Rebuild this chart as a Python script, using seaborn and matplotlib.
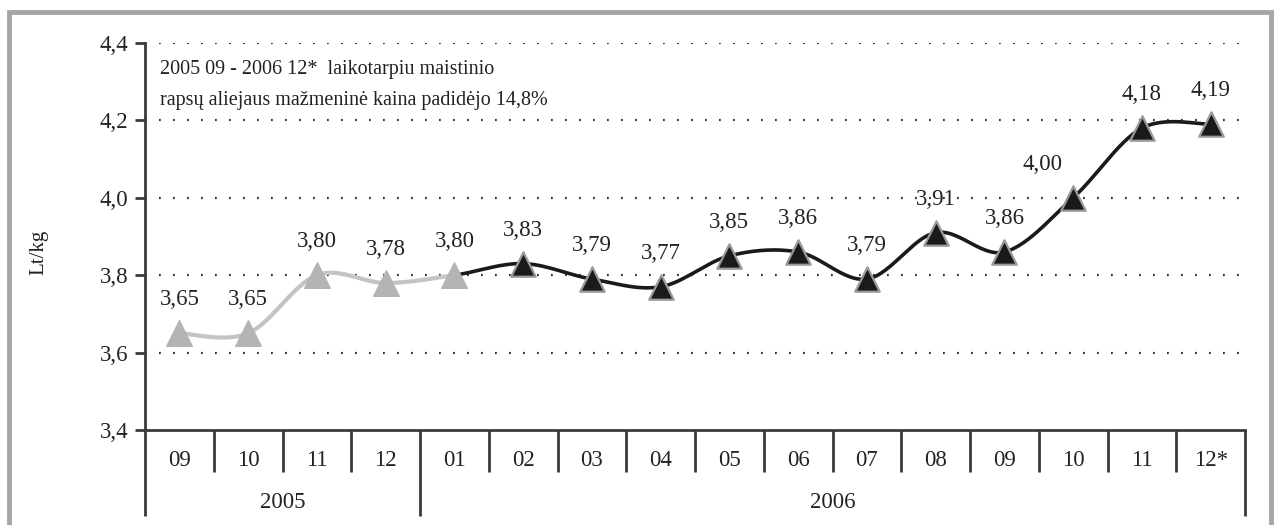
import numpy as np
import pandas as pd
import matplotlib
matplotlib.use("Agg")
import matplotlib.pyplot as plt
import matplotlib.patches as mpatches
import seaborn as sns

# ---- data ----
months = ["09", "10", "11", "12", "01", "02", "03", "04", "05", "06", "07", "08", "09", "10", "11", "12*"]
years = ["2005", "2006"]
year_spans = [4, 12]          # number of months in each year group
prices = [3.65, 3.65, 3.80, 3.78, 3.80, 3.83, 3.79, 3.77, 3.85, 3.86, 3.79, 3.91, 3.86, 4.00, 4.18, 4.19]
labels = ["3,65", "3,65", "3,80", "3,78", "3,80", "3,83", "3,79", "3,77", "3,85", "3,86", "3,79", "3,91", "3,86", "4,00", "4,18", "4,19"]
yticks = [3.4, 3.6, 3.8, 4.0, 4.2, 4.4]
ytick_labels = ["3,4", "3,6", "3,8", "4,0", "4,2", "4,4"]
n_gray = 5   # first points drawn in gray (2005 09 .. 2006 01)
note = "2005 09 - 2006 12*  laikotarpiu maistinio\nrapsų aliejaus mažmeninė kaina padidėjo 14,8%"

sns.set_theme(style="white")
plt.rcParams["font.family"] = ["Liberation Serif", "DejaVu Serif"]

GRAY = "#b4b4b4"
DARK = "#1a1a1a"
AXC = "#3a3a3a"
TXT = "#222222"
NUMFS = 16.5

fig = plt.figure(figsize=(12.76, 5.25), dpi=100)
fig.patch.set_facecolor("white")
W, H = 1276, 525
ax = fig.add_axes([145 / W, 1 - 430 / H, 1100 / W, 387 / H])
ax.set_facecolor("white")

x = np.arange(len(prices))
y = np.array(prices)

# Excel-like smoothing (Bezier through points) for drawing the line
def bezier_segment(i, n=30):
    p0 = np.array([x[i], y[i]])
    p3 = np.array([x[i + 1], y[i + 1]])
    pm = np.array([x[max(i - 1, 0)], y[max(i - 1, 0)]])
    pp = np.array([x[min(i + 2, len(x) - 1)], y[min(i + 2, len(x) - 1)]])
    c1 = p0 + (p3 - pm) / 6.0
    c2 = p3 - (pp - p0) / 6.0
    t = np.linspace(0, 1, n)[:, None]
    pts = (1 - t) ** 3 * p0 + 3 * (1 - t) ** 2 * t * c1 + 3 * (1 - t) * t ** 2 * c2 + t ** 3 * p3
    return pts

def curve(i0, i1):
    segs = [bezier_segment(i) for i in range(i0, i1)]
    pts = np.vstack(segs)
    return pd.DataFrame({"x": pts[:, 0], "y": pts[:, 1]})

gray_curve = curve(0, n_gray - 1)
dark_curve = curve(n_gray - 1, len(x) - 1)

sns.lineplot(data=gray_curve, x="x", y="y", sort=False, color="#c4c4c4", lw=3, ax=ax, zorder=3)
sns.lineplot(data=dark_curve, x="x", y="y", sort=False, color=DARK, lw=2.6, ax=ax, zorder=3)

df = pd.DataFrame({"x": x, "y": y})
sns.scatterplot(data=df.iloc[:n_gray], x="x", y="y", marker="^", s=340, color=GRAY,
                edgecolor=GRAY, linewidth=1, ax=ax, zorder=5)
sns.scatterplot(data=df.iloc[n_gray:], x="x", y="y", marker="^", s=310, color=DARK,
                edgecolor="#9a9a9a", linewidth=1.6, ax=ax, zorder=5)

# value labels
for i, (xi, yi, lab) in enumerate(zip(x, y, labels)):
    dx = -22 if lab == "4,00" else 0
    ax.annotate(lab, (xi, yi), xytext=(dx, 24), textcoords="offset points",
                ha="center", va="center", fontsize=NUMFS, color=TXT, zorder=6)

ax.set_xlim(-0.5, len(x) - 0.5)
ax.set_ylim(3.4, 4.4)
ax.set_yticks(yticks)
ax.set_yticklabels(ytick_labels, fontsize=NUMFS, color=TXT)
ax.set_xticks([])
ax.set_xlabel("")
ax.set_ylabel("Lt/kg", fontsize=15, color=TXT, labelpad=0)
ax.yaxis.set_label_coords(-97 / 1100, 0.46)

for yt in yticks[1:]:
    ax.axhline(yt, color="#333333", lw=1.6, ls=(0, (0.8, 5.5)), zorder=1)

for s in ["top", "right"]:
    ax.spines[s].set_visible(False)
ax.spines["left"].set_color(AXC)
ax.spines["left"].set_linewidth(2)
ax.spines["bottom"].set_color(AXC)
ax.spines["bottom"].set_linewidth(2)
ax.tick_params(axis="y", direction="out", length=7, width=2, color=AXC, pad=5, left=True)

# category table below axis
tr = ax.get_xaxis_transform()
short = -42 / 387
long = -86 / 387
bounds_long = [-0.5]
acc = -0.5
for span in year_spans:
    acc += span
    bounds_long.append(acc)
for b in np.arange(-0.5, len(x) + 0.5, 1.0):
    yb = long if any(abs(b - bl) < 1e-9 for bl in bounds_long) else short
    ax.plot([b, b], [0, yb], transform=tr, color=AXC, lw=2, clip_on=False,
            solid_capstyle="butt")
for xi, m in zip(x, months):
    ax.text(xi, -30 / 387, m, transform=tr, ha="center", va="center", fontsize=NUMFS, color=TXT)
start = -0.5
for yr, span in zip(years, year_spans):
    ax.text(start + span / 2, -72 / 387, yr, transform=tr, ha="center", va="center",
            fontsize=NUMFS, color=TXT)
    start += span

# note text
ax.text(15 / 1100, 1 - 17 / 387, note, transform=ax.transAxes, ha="left", va="top",
        fontsize=14.5, color=TXT, linespacing=1.85)

# figure border
fig.patches.append(mpatches.Rectangle((8.5 / W, -0.1), (1271 - 8.5) / W, 1.1 - 12.5 / H,
                                      transform=fig.transFigure, fill=False,
                                      edgecolor="#a6a6a6", lw=3.5))

fig.savefig("out.png", dpi=100, facecolor="white")
